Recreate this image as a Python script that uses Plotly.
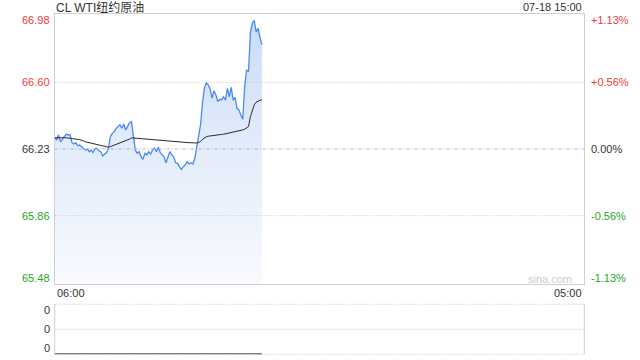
import plotly.graph_objects as go

# ---- data (minutes after 06:00, 5-minute samples) ----
minutes = [5 * i for i in range(109)]
price = [
    66.295, 66.280, 66.308, 66.270, 66.284, 66.298, 66.313, 66.308, 66.310, 66.265,
    66.258, 66.265, 66.248, 66.252, 66.243, 66.234, 66.224, 66.230, 66.215, 66.224,
    66.210, 66.232, 66.234, 66.220, 66.215, 66.191, 66.202, 66.210, 66.234, 66.298,
    66.317, 66.326, 66.345, 66.354, 66.364, 66.345, 66.369, 66.336, 66.354, 66.376,
    66.382, 66.289, 66.224, 66.206, 66.215, 66.187, 66.173, 66.206, 66.197, 66.215,
    66.202, 66.224, 66.234, 66.215, 66.240, 66.210, 66.197, 66.187, 66.154, 66.187,
    66.215, 66.197, 66.187, 66.154, 66.150, 66.132, 66.117, 66.132, 66.141, 66.160,
    66.147, 66.154, 66.147, 66.178, 66.243, 66.298, 66.364, 66.484, 66.567, 66.598,
    66.586, 66.562, 66.512, 66.554, 66.530, 66.493, 66.506, 66.502, 66.520, 66.502,
    66.567, 66.520, 66.573, 66.502, 66.517, 66.456, 66.447, 66.419, 66.395, 66.576,
    66.669, 66.660, 66.880, 66.930, 66.945, 66.880, 66.900, 66.850, 66.810,
]
avg_price = [
    66.293, 66.292, 66.293, 66.292, 66.292, 66.293, 66.293, 66.292, 66.290, 66.288,
    66.285, 66.284, 66.283, 66.282, 66.280, 66.275, 66.270, 66.267, 66.264, 66.262,
    66.259, 66.257, 66.254, 66.252, 66.250, 66.248, 66.245, 66.242, 66.240, 66.243,
    66.247, 66.250, 66.253, 66.257, 66.261, 66.265, 66.269, 66.273, 66.278, 66.285,
    66.292, 66.291, 66.289, 66.288, 66.287, 66.286, 66.285, 66.284, 66.283, 66.282,
    66.281, 66.281, 66.280, 66.279, 66.279, 66.278, 66.277, 66.277, 66.276, 66.275,
    66.274, 66.273, 66.273, 66.272, 66.271, 66.270, 66.269, 66.268, 66.267, 66.266,
    66.265, 66.265, 66.264, 66.263, 66.263, 66.266, 66.272, 66.283, 66.293, 66.298,
    66.301, 66.303, 66.305, 66.307, 66.308, 66.309, 66.310, 66.311, 66.312, 66.314,
    66.316, 66.318, 66.320, 66.322, 66.324, 66.327, 66.330, 66.333, 66.336, 66.340,
    66.347, 66.355, 66.410, 66.450, 66.475, 66.490, 66.497, 66.501, 66.503,
]
volume = [0] * len(minutes)

price_ticks = [66.98, 66.60, 66.23, 65.86, 65.48]
pct_labels = ["+1.13%", "+0.56%", "0.00%", "-0.56%", "-1.13%"]
time_labels = ["06:00", "05:00"]
vol_labels = ["0", "0", "0"]
title_text = "CL WTI纽约原油"
stamp_text = "07-18 15:00"
full_span = 1380  # 06:00 -> 05:00 next day

# ---- styling ----
RED = "#f23a3a"
GREEN = "#1fa51f"
DARK = "#333333"
label_colors = [RED, RED, DARK, GREEN, GREEN]
label_shift = [-6, 0, 0, 0, 6]
FONT = "Liberation Sans, Arial, Noto Sans CJK SC, sans-serif"

W, H = 640, 360
x0px, x1px = 54.7, 584.3
main_top, main_bot = 14, 284
vol_top, vol_bot = 304.3, 354.3

fig = go.Figure()

fig.add_trace(go.Scatter(
    x=minutes, y=price, mode="lines",
    line=dict(color="#4a89f0", width=1.3),
    fill="tozeroy",
    fillgradient=dict(type="vertical", start=price_ticks[-1], stop=price_ticks[0],
                      colorscale=[[0, "#f8fafe"], [0.5, "#e3ecfb"], [1, "#c8dbf8"]]),
    hoverinfo="skip", xaxis="x", yaxis="y",
))
fig.add_trace(go.Scatter(
    x=minutes, y=avg_price, mode="lines",
    line=dict(color="#2a2a2a", width=1),
    hoverinfo="skip", xaxis="x", yaxis="y",
))
fig.add_trace(go.Scatter(
    x=minutes, y=volume, mode="lines",
    line=dict(color="#555555", width=2),
    hoverinfo="skip", xaxis="x2", yaxis="y2",
))

dom_x = [x0px / W, x1px / W]
axis_common = dict(showgrid=False, zeroline=False, showticklabels=False, ticks="",
                   fixedrange=True)
fig.update_layout(
    width=W, height=H,
    margin=dict(l=0, r=0, t=0, b=0),
    paper_bgcolor="white", plot_bgcolor="white",
    showlegend=False,
    font=dict(family=FONT, size=11, color=DARK),
    xaxis=dict(domain=dom_x, range=[0, full_span], anchor="y",
               showline=True, mirror=True, linecolor="#cfcfcf", linewidth=1, **axis_common),
    yaxis=dict(domain=[(H - main_bot) / H, (H - main_top) / H],
               range=[price_ticks[-1], price_ticks[0]], anchor="x",
               showline=True, mirror=True, linecolor="#cfcfcf", linewidth=1, **axis_common),
    xaxis2=dict(domain=dom_x, range=[0, full_span], anchor="y2", showline=False, **axis_common),
    yaxis2=dict(domain=[(H - vol_bot) / H, (H - vol_top) / H], range=[0, 1],
                anchor="x2", showline=False, **axis_common),
)

shapes = []
# main grid lines (drawn over the fill, like the reference)
for v in price_ticks[1:-1]:
    is_mid = abs(v - price_ticks[2]) < 1e-9
    shapes.append(dict(type="line", xref="x domain", yref="y", x0=0, x1=1, y0=v, y1=v,
                       line=dict(color="#b0b0b0" if is_mid else "#c4c4c4", width=1,
                                 dash="3px,2px,1px,2px" if is_mid else "1px,2px"),
                       layer="above"))
# volume panel frame
shapes.append(dict(type="line", xref="x2 domain", yref="y2 domain", x0=0, x1=0, y0=0, y1=1,
                   line=dict(color="#cfcfcf", width=1)))
shapes.append(dict(type="line", xref="x2 domain", yref="y2 domain", x0=1, x1=1, y0=0, y1=1,
                   line=dict(color="#cfcfcf", width=1)))
for yy in [0, 0.5, 1]:
    shapes.append(dict(type="line", xref="x2 domain", yref="y2 domain", x0=0, x1=1, y0=yy, y1=yy,
                       line=dict(color="#bdbdbd", width=1, dash="1px,2px"), layer="below"))
fig.update_layout(shapes=shapes)

ann = []
for v, lab, c, s in zip(price_ticks, price_ticks, label_colors, label_shift):
    ann.append(dict(xref="x domain", yref="y", x=0, y=v, xanchor="right", yanchor="middle",
                    xshift=-3, yshift=s, text=f"{lab:.2f}", showarrow=False,
                    font=dict(color=c, size=11)))
for v, lab, c, s in zip(price_ticks, pct_labels, label_colors, label_shift):
    ann.append(dict(xref="x domain", yref="y", x=1, y=v, xanchor="left", yanchor="middle",
                    xshift=5, yshift=s, text=lab, showarrow=False,
                    font=dict(color=c, size=11)))
ann.append(dict(xref="x domain", yref="paper", x=0, y=(H - 293) / H, xanchor="left",
                yanchor="middle", text=time_labels[0], showarrow=False,
                font=dict(color=DARK, size=11)))
ann.append(dict(xref="x domain", yref="paper", x=1, y=(H - 293) / H, xanchor="right",
                yanchor="middle", text=time_labels[1], showarrow=False,
                font=dict(color=DARK, size=11)))
for lab, yy in zip(vol_labels, [0.88, 0.5, 0.12]):
    ann.append(dict(xref="x2 domain", yref="y2 domain", x=0, y=yy, xanchor="right",
                    yanchor="middle", xshift=-3, text=lab, showarrow=False,
                    font=dict(color=DARK, size=11)))
ann.append(dict(xref="x domain", yref="paper", x=0, y=(H - 7) / H, xanchor="left",
                yanchor="middle", xshift=-1, text=title_text, showarrow=False,
                font=dict(color=DARK, size=12)))
ann.append(dict(xref="x domain", yref="paper", x=1, y=(H - 7) / H, xanchor="right",
                yanchor="middle", text=stamp_text, showarrow=False,
                font=dict(color=DARK, size=11)))
ann.append(dict(xref="x domain", yref="y", x=1, y=price_ticks[-1], xanchor="right",
                yanchor="middle", xshift=-10, yshift=5, text="sina.com", showarrow=False,
                font=dict(color="#cccccc", size=11)))
fig.update_layout(annotations=ann)

fig.write_html("out.html")
